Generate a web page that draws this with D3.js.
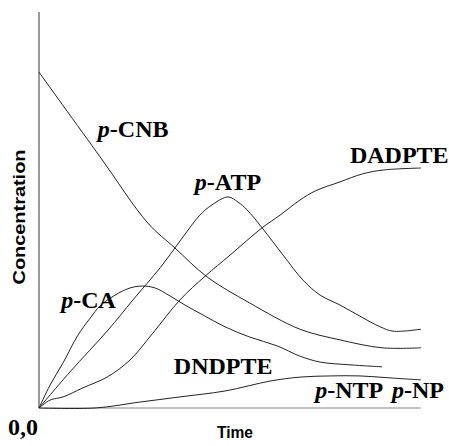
<!DOCTYPE html>
<html lang="en">
<head>
    <meta charset="UTF-8">
    <title>Concentration vs Time</title>
    <style>
        body { margin: 0; background: #fff; }
        .lbl { font-family: "Liberation Serif", "Times New Roman", serif; font-weight: bold; }
        .ax { font-family: "Liberation Sans", Arial, sans-serif; font-weight: bold; }
    </style>
</head>
<body>
    <div id="chart"></div>

    <script src="https://d3js.org/d3.v7.min.js"></script>
    <script>
        // [time, concentration] (arbitrary units)
        const cnb = [[0, 84.8], [16.0, 63.4], [28.5, 46.7], [35.6, 40.4], [44.0, 33.1], [55.2, 26.5],
            [68.3, 19.9], [78.8, 17.2], [89.8, 15.2], [100, 15.2]];
        const atp = [[0, 0], [8.1, 9.1], [18.1, 19.7], [24.6, 27.3], [31.7, 35.4], [37.7, 43.2],
            [42.1, 48.7], [45.3, 51.3], [49.5, 53.3], [52.1, 52.0], [54.5, 50.0], [58.4, 45.5],
            [63.9, 38.6], [69.1, 32.3], [73.6, 28.5], [78.8, 26.0], [84.0, 23.2], [89.3, 20.5],
            [92.7, 19.4], [100, 19.9]];
        const ca = [[0, 0], [2.9, 5.8], [6.3, 11.4], [10.2, 18.4], [13.4, 22.7], [16.0, 25.8],
            [19.9, 28.5], [23.8, 30.3], [27.0, 30.8], [30.4, 30.3], [34.3, 28.3], [38.2, 26.0],
            [42.9, 23.5], [48.7, 20.5], [55.2, 17.9], [62.3, 15.7], [68.3, 13.1], [73.6, 11.6],
            [81.4, 10.9], [89.8, 10.4]];
        const dadpte = [[0, 0], [2.9, 2.0], [6.3, 2.8], [11.5, 5.1], [17.8, 7.8], [23.8, 12.1],
            [29.8, 18.9], [36.9, 27.3], [43.5, 33.3], [50.0, 38.6], [58.4, 45.5], [63.1, 48.7],
            [68.3, 52.5], [72.3, 54.8], [78.8, 57.1], [84.6, 59.1], [90.1, 60.1], [100, 60.6]];
        const dndpte = [[0, 0], [14.7, 0], [26.4, 1.5], [36.9, 2.8], [48.7, 4.3], [60.5, 6.8],
            [68.3, 7.8], [76.2, 8.1], [84.0, 8.1], [91.9, 7.6], [100, 7.1]];

        // curve labels: [italic prefix, rest, time, concentration]
        const labels = [
            ["p", "-CNB", 15.4, 68.4],
            ["p", "-ATP", 40.8, 55.1],
            ["", "DADPTE", 81.4, 61.9],
            ["p", "-CA", 5.8, 25.3],
            ["", "DNDPTE", 35.3, 8.6],
            ["p", "-NTP", 72.3, 2.5],
            ["p", "-NP", 92.4, 2.5]
        ];

        const width = 449, height = 446;
        const margin = { top: 12, right: 28, bottom: 38, left: 39 };

        const svg = d3.select("#chart")
            .append("svg")
                .attr("width", width)
                .attr("height", height);

        const x = d3.scaleLinear()
            .domain([0, 100])
            .range([margin.left, width - margin.right]);
        const y = d3.scaleLinear()
            .domain([0, 100])
            .range([height - margin.bottom, margin.top]);

        // axes: plain lines, no ticks
        svg.append("line")
            .attr("x1", x(0)).attr("x2", x(0))
            .attr("y1", y(0)).attr("y2", y(100))
            .attr("stroke", "#555").attr("stroke-width", 1.2);
        svg.append("line")
            .attr("x1", x(0)).attr("x2", x(100))
            .attr("y1", y(0)).attr("y2", y(0))
            .attr("stroke", "#888").attr("stroke-width", 1.2);

        const line = d3.line()
            .x(d => x(d[0]))
            .y(d => y(d[1]))
            .curve(d3.curveCatmullRom.alpha(0.5));

        [cnb, atp, ca, dadpte, dndpte].forEach(s => {
            svg.append("path")
                .datum(s)
                .attr("fill", "none")
                .attr("stroke", "#222")
                .attr("stroke-width", 1)
                .attr("d", line);
        });

        labels.forEach(l => {
            const t = svg.append("text")
                .attr("class", "lbl")
                .attr("x", x(l[2]))
                .attr("y", y(l[3]))
                .style("font-size", "24px");
            if (l[0]) t.append("tspan").style("font-style", "italic").text(l[0]);
            t.append("tspan").text(l[1]);
        });

        svg.append("text")
            .attr("class", "lbl")
            .attr("x", 8)
            .attr("y", 435)
            .style("font-size", "24px")
            .text("0,0");

        svg.append("text")
            .attr("class", "ax")
            .attr("x", 217)
            .attr("y", 438)
            .style("font-size", "16px")
            .attr("textLength", 36)
            .attr("lengthAdjust", "spacingAndGlyphs")
            .text("Time");

        svg.append("text")
            .attr("class", "ax")
            .attr("transform", "translate(25," + 217 + ") rotate(-90)")
            .attr("text-anchor", "middle")
            .style("font-size", "17px")
            .attr("textLength", 135)
            .attr("lengthAdjust", "spacingAndGlyphs")
            .text("Concentration");
    </script>
</body>
</html>
